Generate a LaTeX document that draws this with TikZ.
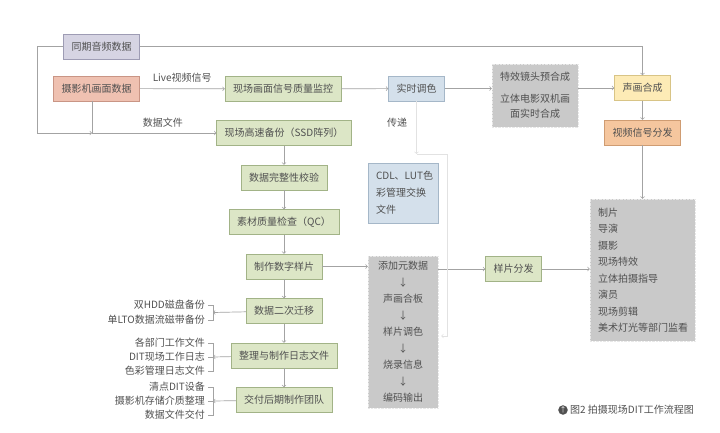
\documentclass[tikz,border=0pt]{standalone}
\usepackage{fontspec}
\setmainfont{Noto Sans CJK SC}
\usetikzlibrary{positioning}
\definecolor{txt}{HTML}{505050}
\definecolor{wirec}{HTML}{A3A3A3}
\definecolor{faintc}{HTML}{E2E2E2}
\definecolor{gfill}{HTML}{DCE6C6}
\definecolor{gdraw}{HTML}{A2B387}
\definecolor{afill}{HTML}{D6D4E3}
\definecolor{adraw}{HTML}{9E9CB4}
\definecolor{cfill}{HTML}{EFC1B1}
\definecolor{cdraw}{HTML}{C99585}
\definecolor{bfill}{HTML}{D4E0EB}
\definecolor{bdraw}{HTML}{A5B7C8}
\definecolor{yfill}{HTML}{FDEBB6}
\definecolor{ydraw}{HTML}{D8C486}
\definecolor{ofill}{HTML}{F5C69E}
\definecolor{odraw}{HTML}{CF9C72}
\definecolor{pfill}{HTML}{C9C9C9}
\definecolor{pdraw}{HTML}{E8E8E8}

\begin{document}
\begin{tikzpicture}[x=1pt, y=-1pt, font=\fontsize{10}{12}\selectfont, node distance={44.5pt}, thin,
    box/.style = {draw, minimum height=25pt, inner xsep=8pt, text=txt},
    main/.style = {box, fill=gfill, draw=gdraw},
    audio/.style = {box, fill=afill, draw=adraw},
    camera/.style = {box, fill=cfill, draw=cdraw},
    tone/.style = {box, fill=bfill, draw=bdraw},
    mix/.style = {box, fill=yfill, draw=ydraw},
    sig/.style = {box, fill=ofill, draw=odraw},
    pile/.style = {draw=pdraw, densely dotted, fill=pfill, text=txt, inner sep=4pt},
    note/.style = {text=txt, inner sep=0pt},
    wire/.style = {draw=wirec, line width=0.7pt},
    faint/.style = {draw=faintc, line width=0.7pt}]
    \useasboundingbox (0,0) rectangle (720,433);
    \node[audio] (aud) at (101.5,46.5) {同期音频数据};
    \node[camera] (cam) at (96.5,88.5) {摄影机画面数据};
    \node[main] (mon) at (283,89) {现场画面信号质量监控};
    \node[tone] (grade) at (416.5,88.5) {实时调色};
    \node[pile, minimum width=86pt, minimum height=63pt, align=center, font=\fontsize{10}{15.5}\selectfont] (fx) at (535,95.5) {特效镜头预合成\\[6pt]立体电影双机画\\面实时合成};
    \node[mix] (av) at (642.5,88) {声画合成};
    \node[sig] (out) [below of=av] {视频信号分发};
    \node[main] (ssd) at (284,133) {现场高速备份（SSD阵列）};
    \node[main] (check) [below of=ssd] {数据完整性校验};
    \node[main] (qc) [below of=check] {素材质量检查（QC）};
    \node[main] (daily) [below of=qc] {制作数字样片};
    \node[main] (move) [below of=daily] {数据二次迁移};
    \node[main] (logs) [below of=move] {整理与制作日志文件};
    \node[main] (hand) [below of=logs] {交付后期制作团队};
    \node[tone, align=left, text width=54pt, minimum height=60pt, font=\fontsize{10}{17}\selectfont] (cdl) at (403,193) {CDL、LUT色\\彩管理交换\\文件};
    \node[pile, align=center, minimum width=70pt, minimum height=152pt, font=\fontsize{10}{16.5}\selectfont] (proc) at (403,332) {添加元数据\\↓\\声画合板\\↓\\样片调色\\↓\\烧录信息\\↓\\编码输出};
    \node[main] (send) at (513.5,269) {样片分发};
    \node[pile, align=left, text width=89pt, inner xsep=8pt, minimum height=142pt, font=\fontsize{10}{16.5}\selectfont] (watch) at (642.5,270) {制片\\导演\\摄影\\现场特效\\立体拍摄指导\\演员\\现场剪辑\\美术灯光等部门监看};
    \node[note, anchor=east, align=right, font=\fontsize{10}{15}\selectfont] (bak) at (205,312.5) {双HDD磁盘备份\\单LTO数据流磁带备份};
    \node[note, anchor=east, align=right, font=\fontsize{10}{14}\selectfont] (docs) at (205,357) {各部门工作文件\\DIT现场工作日志\\色彩管理日志文件};
    \node[note, anchor=east, align=right, font=\fontsize{10}{14}\selectfont] (give) at (205,401) {清点DIT设备\\摄影机存储介质整理\\数据文件交付};
    \node[circle, fill=txt, text=white, inner sep=0pt, minimum size=9pt, font=\fontsize{7}{7}\selectfont] (icon) at (563,410) {↑};
    \node[note, anchor=west] (cap) at (570,410) {图2 拍摄现场DIT工作流程图};
    \coordinate (join) at (92,133);
    \coordinate (pass) at (416.5,154);
    \coordinate (back) at (447,336);
    \coordinate (bk1) at (213,312.5);
    \coordinate (bk2) at (213,357);
    \coordinate (bk3) at (213,401);
    \draw[wire,->] (aud.west) -- ++(-26,0) |- (join);
    \draw[wire] (cam.south -| join) -- (join);
    \draw[wire,->] (join) -- node[note, above=5pt, pos=0.57] {数据文件} (ssd);
    \draw[wire,->] (cam) -- node[note, above=6pt] {Live视频信号} (mon);
    \draw[wire,->] (mon) -- (grade);
    \draw[wire,->] (grade) -- (fx.west |- grade);
    \draw[wire,->] (fx.east |- av) -- (av);
    \draw[wire,->] (aud.east) -| (av.north);
    \draw[wire,->] (av) -- (out);
    \draw[wire,->] (out) -- (watch);
    \draw[wire,->] (ssd) -- (check);
    \draw[wire,->] (check) -- (qc);
    \draw[wire,->] (qc) -- (daily);
    \draw[wire,->] (daily) -- (move);
    \draw[wire,->] (move) -- (logs);
    \draw[wire,->] (logs) -- (hand);
    \draw[wire,->] (daily) -- (daily -| proc.west);
    \draw[wire,->] (send -| proc.east) -- (send);
    \draw[wire,->] (send) -- (send -| watch.west);
    \draw[faint,->] (grade) -- node[note, left=9pt, pos=0.4, text=txt] {传递} (pass);
    \draw[faint,->] (pass) -| (back) -- ([xshift=3pt]back -| proc.east);
    % brackets on the left
    \draw[wire,->] (move) -- (bk1);
    \draw[wire] (208,305) -| (213,320) -- (208,320);
    \draw[wire,->] (logs) -- (bk2);
    \draw[wire] (208,343) -| (213,371) -- (208,371);
    \draw[wire] (208,357) -- (bk2);
    \draw[wire,->] (hand) -- (bk3);
    \draw[wire] (208,387) -| (213,415) -- (208,415);
    \draw[wire] (208,401) -- (bk3);
\end{tikzpicture}
\end{document}
